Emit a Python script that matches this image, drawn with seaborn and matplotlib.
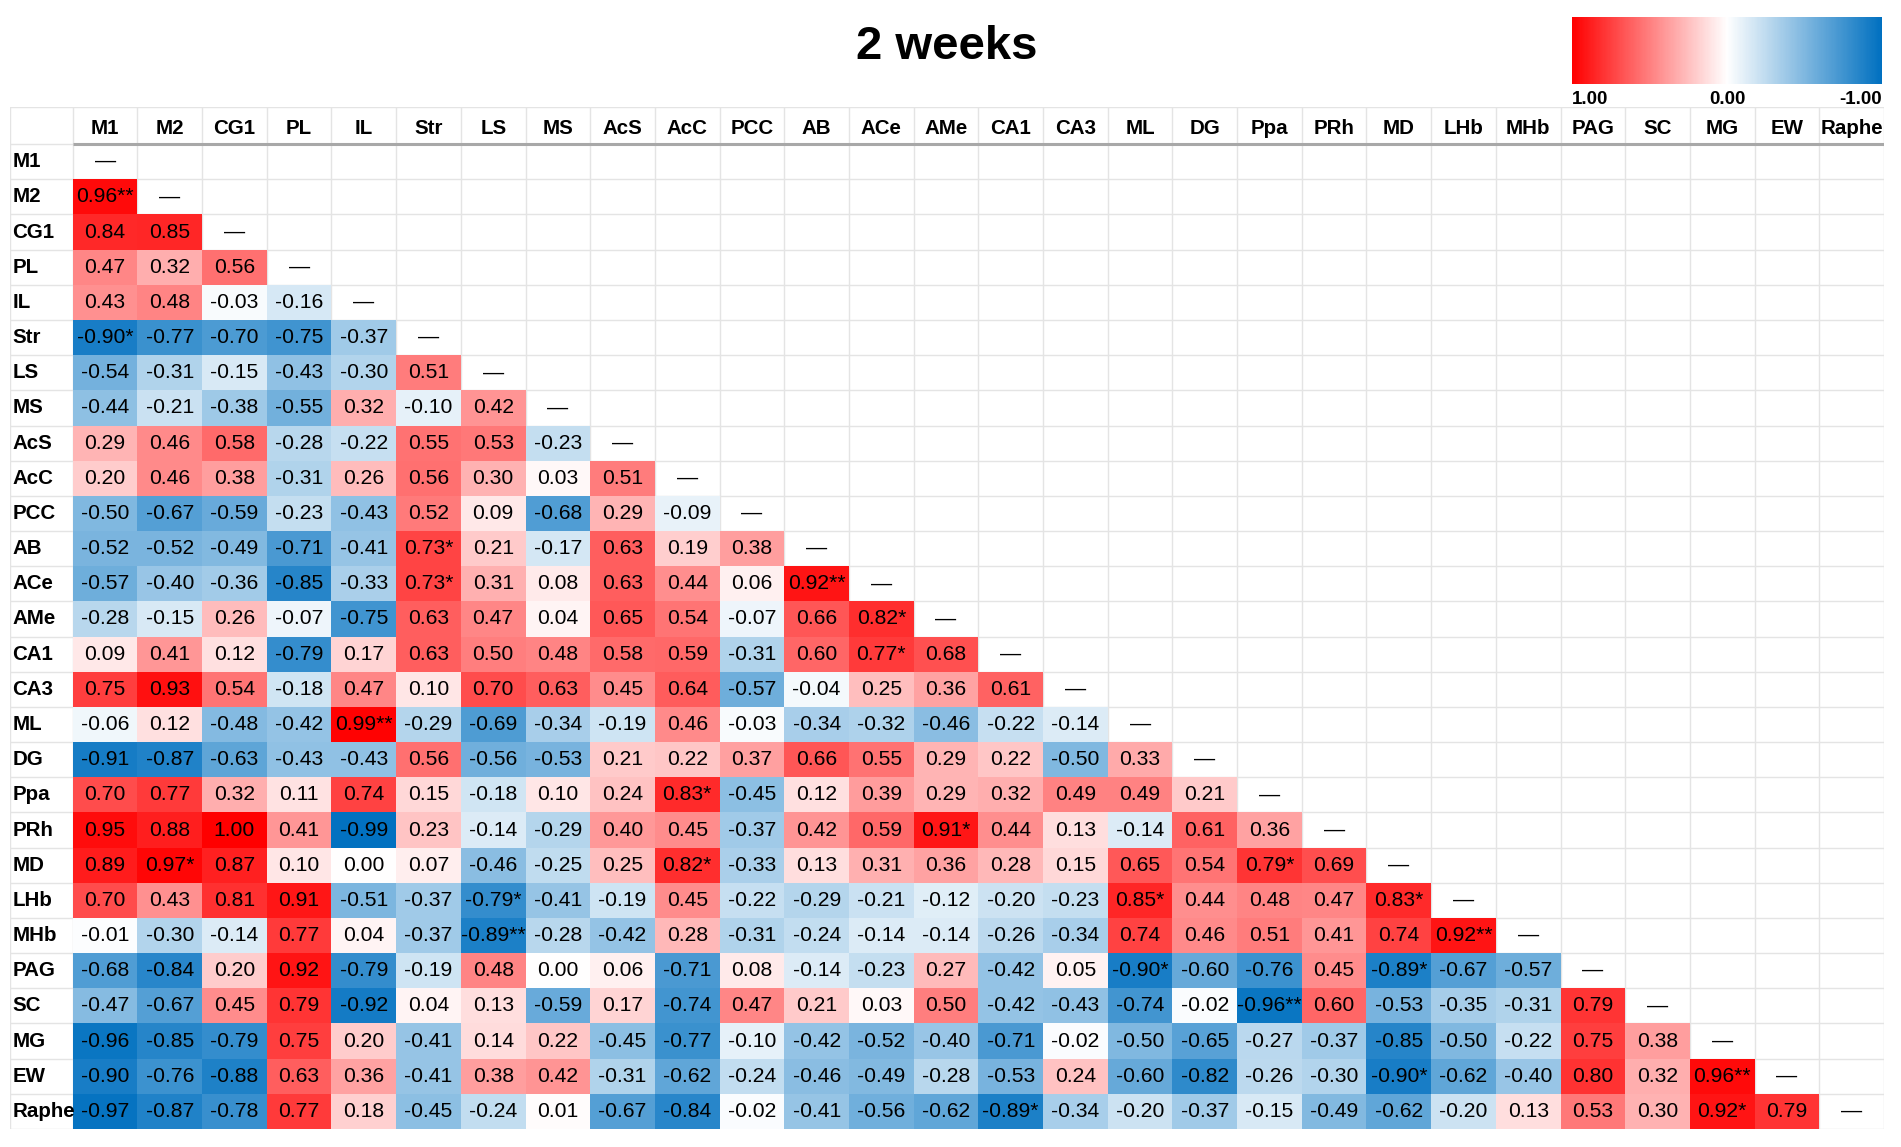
import numpy as np
import pandas as pd
import matplotlib
matplotlib.use("Agg")
import matplotlib.pyplot as plt
import seaborn as sns
from matplotlib.colors import LinearSegmentedColormap

# ---------------- data ----------------
regions = ["M1", "M2", "CG1", "PL", "IL", "Str", "LS", "MS", "AcS", "AcC", "PCC",
           "AB", "ACe", "AMe", "CA1", "CA3", "ML", "DG", "Ppa", "PRh", "MD", "LHb",
           "MHb", "PAG", "SC", "MG", "EW", "Raphe"]

row_M1 = []
row_M2 = [0.96]
row_CG1 = [0.84, 0.85]
row_PL = [0.47, 0.32, 0.56]
row_IL = [0.43, 0.48, -0.03, -0.16]
row_Str = [-0.90, -0.77, -0.70, -0.75, -0.37]
row_LS = [-0.54, -0.31, -0.15, -0.43, -0.30, 0.51]
row_MS = [-0.44, -0.21, -0.38, -0.55, 0.32, -0.10, 0.42]
row_AcS = [0.29, 0.46, 0.58, -0.28, -0.22, 0.55, 0.53, -0.23]
row_AcC = [0.20, 0.46, 0.38, -0.31, 0.26, 0.56, 0.30, 0.03, 0.51]
row_PCC = [-0.50, -0.67, -0.59, -0.23, -0.43, 0.52, 0.09, -0.68, 0.29, -0.09]
row_AB = [-0.52, -0.52, -0.49, -0.71, -0.41, 0.73, 0.21, -0.17, 0.63, 0.19, 0.38]
row_ACe = [-0.57, -0.40, -0.36, -0.85, -0.33, 0.73, 0.31, 0.08, 0.63, 0.44, 0.06, 0.92]
row_AMe = [-0.28, -0.15, 0.26, -0.07, -0.75, 0.63, 0.47, 0.04, 0.65, 0.54, -0.07, 0.66,
           0.82]
row_CA1 = [0.09, 0.41, 0.12, -0.79, 0.17, 0.63, 0.50, 0.48, 0.58, 0.59, -0.31, 0.60,
           0.77, 0.68]
row_CA3 = [0.75, 0.93, 0.54, -0.18, 0.47, 0.10, 0.70, 0.63, 0.45, 0.64, -0.57, -0.04,
           0.25, 0.36, 0.61]
row_ML = [-0.06, 0.12, -0.48, -0.42, 0.99, -0.29, -0.69, -0.34, -0.19, 0.46, -0.03,
          -0.34, -0.32, -0.46, -0.22, -0.14]
row_DG = [-0.91, -0.87, -0.63, -0.43, -0.43, 0.56, -0.56, -0.53, 0.21, 0.22, 0.37, 0.66,
          0.55, 0.29, 0.22, -0.50, 0.33]
row_Ppa = [0.70, 0.77, 0.32, 0.11, 0.74, 0.15, -0.18, 0.10, 0.24, 0.83, -0.45, 0.12,
           0.39, 0.29, 0.32, 0.49, 0.49, 0.21]
row_PRh = [0.95, 0.88, 1.00, 0.41, -0.99, 0.23, -0.14, -0.29, 0.40, 0.45, -0.37, 0.42,
           0.59, 0.91, 0.44, 0.13, -0.14, 0.61, 0.36]
row_MD = [0.89, 0.97, 0.87, 0.10, 0.00, 0.07, -0.46, -0.25, 0.25, 0.82, -0.33, 0.13,
          0.31, 0.36, 0.28, 0.15, 0.65, 0.54, 0.79, 0.69]
row_LHb = [0.70, 0.43, 0.81, 0.91, -0.51, -0.37, -0.79, -0.41, -0.19, 0.45, -0.22,
           -0.29, -0.21, -0.12, -0.20, -0.23, 0.85, 0.44, 0.48, 0.47, 0.83]
row_MHb = [-0.01, -0.30, -0.14, 0.77, 0.04, -0.37, -0.89, -0.28, -0.42, 0.28, -0.31,
           -0.24, -0.14, -0.14, -0.26, -0.34, 0.74, 0.46, 0.51, 0.41, 0.74, 0.92]
row_PAG = [-0.68, -0.84, 0.20, 0.92, -0.79, -0.19, 0.48, 0.00, 0.06, -0.71, 0.08, -0.14,
           -0.23, 0.27, -0.42, 0.05, -0.90, -0.60, -0.76, 0.45, -0.89, -0.67, -0.57]
row_SC = [-0.47, -0.67, 0.45, 0.79, -0.92, 0.04, 0.13, -0.59, 0.17, -0.74, 0.47, 0.21,
          0.03, 0.50, -0.42, -0.43, -0.74, -0.02, -0.96, 0.60, -0.53, -0.35, -0.31, 0.79]
row_MG = [-0.96, -0.85, -0.79, 0.75, 0.20, -0.41, 0.14, 0.22, -0.45, -0.77, -0.10, -0.42,
          -0.52, -0.40, -0.71, -0.02, -0.50, -0.65, -0.27, -0.37, -0.85, -0.50, -0.22,
          0.75, 0.38]
row_EW = [-0.90, -0.76, -0.88, 0.63, 0.36, -0.41, 0.38, 0.42, -0.31, -0.62, -0.24, -0.46,
          -0.49, -0.28, -0.53, 0.24, -0.60, -0.82, -0.26, -0.30, -0.90, -0.62, -0.40,
          0.80, 0.32, 0.96]
row_Raphe = [-0.97, -0.87, -0.78, 0.77, 0.18, -0.45, -0.24, 0.01, -0.67, -0.84, -0.02,
             -0.41, -0.56, -0.62, -0.89, -0.34, -0.20, -0.37, -0.15, -0.49, -0.62, -0.20,
             0.13, 0.53, 0.30, 0.92, 0.79]

rows = [row_M1, row_M2, row_CG1, row_PL, row_IL, row_Str, row_LS, row_MS, row_AcS,
        row_AcC, row_PCC, row_AB, row_ACe, row_AMe, row_CA1, row_CA3, row_ML, row_DG,
        row_Ppa, row_PRh, row_MD, row_LHb, row_MHb, row_PAG, row_SC, row_MG, row_EW,
        row_Raphe]

# significance markers (row, column)
sig_one = [("Str", "M1"), ("AB", "Str"), ("ACe", "Str"), ("AMe", "ACe"), ("CA1", "ACe"),
           ("Ppa", "AcC"), ("PRh", "AMe"), ("MD", "M2"), ("MD", "AcC"), ("MD", "Ppa"),
           ("LHb", "LS"), ("LHb", "ML"), ("LHb", "MD"), ("PAG", "ML"), ("PAG", "MD"),
           ("EW", "MD"), ("Raphe", "CA1"), ("Raphe", "MG")]
sig_two = [("M2", "M1"), ("ACe", "AB"), ("ML", "IL"), ("MHb", "LS"), ("MHb", "LHb"),
           ("SC", "Ppa"), ("EW", "MG")]

title_text = "2 weeks"
cbar_ticks = [1.0, 0.0, -1.0]
cbar_labels = ["1.00", "0.00", "-1.00"]

# ---------------- build ----------------
sns.set_theme(style="white")
plt.rcParams["font.family"] = ["Liberation Sans", "DejaVu Sans"]
plt.rcParams["text.color"] = "black"
plt.rcParams["xtick.color"] = "black"
plt.rcParams["xtick.labelcolor"] = "black"

n = len(regions)
mat = np.full((n, n), np.nan)
annot = np.full((n, n), "", dtype=object)
for i, row in enumerate(rows):
    for j, v in enumerate(row):
        mat[i, j] = v
        annot[i, j] = f"{v:.2f}"
for r, c in sig_one:
    annot[regions.index(r), regions.index(c)] += "*"
for r, c in sig_two:
    annot[regions.index(r), regions.index(c)] += "**"

df = pd.DataFrame(mat, index=regions, columns=regions)

W, H = 1901, 1147
fig = plt.figure(figsize=(W / 100, H / 100), dpi=100)
fig.patch.set_facecolor("white")

tbl_left, tbl_right, tbl_top, tbl_bottom = 10, 1884, 107.2, 1129
ax = fig.add_axes([tbl_left / W, 1 - tbl_bottom / H, (tbl_right - tbl_left) / W,
                   (tbl_bottom - tbl_top) / H])
cax = fig.add_axes([1572 / W, 1 - 84 / H, 310 / W, 67 / H])

cmap = LinearSegmentedColormap.from_list("rwb", ["#0070C0", "#FFFFFF", "#FF0000"])

num_fs = 15.2
lab_fs = 14.8

sns.heatmap(df, ax=ax, cmap=cmap, vmin=-1, vmax=1, annot=annot, fmt="",
            annot_kws=dict(fontsize=num_fs, color="black"),
            cbar_ax=cax, cbar_kws=dict(orientation="horizontal"),
            linewidths=0)

label_w = 0.97
header_h = 1.05
ax.set_xlim(-label_w, n)
ax.set_ylim(n, -header_h)
ax.set_xticks([])
ax.set_yticks([])
for s in ax.spines.values():
    s.set_visible(False)
ax.set_facecolor("white")

grid_col = "#E4E4E4"
for x in [-label_w] + list(range(n + 1)):
    ax.plot([x, x], [-header_h, n], color=grid_col, lw=1.0, zorder=0.5)
for y in [-header_h] + list(range(n + 1)):
    ax.plot([-label_w, n], [y, y], color=grid_col, lw=1.0, zorder=0.5)
ax.plot([0, n], [0, 0], color="#A8A8A8", lw=2.2, zorder=3, solid_capstyle="butt")

for j, name in enumerate(regions):
    ax.text(j + 0.5, -header_h / 2 + 0.08, name, ha="center", va="center",
            fontsize=lab_fs, fontweight="bold", color="black")
for i, name in enumerate(regions):
    ax.text(-label_w + 0.04, i + 0.5, name, ha="left", va="center",
            fontsize=lab_fs, fontweight="bold", color="black")
    ax.text(i + 0.5, i + 0.5, "\u2014", ha="center", va="center",
            fontsize=num_fs, color="black")

# colorbar
cbar = ax.collections[0].colorbar
cbar.outline.set_visible(False)
cax.invert_xaxis()
cax.set_xticks(cbar_ticks)
cax.set_xticklabels(cbar_labels, fontsize=13.5, fontweight="bold", color="black")
cax.tick_params(axis="x", length=0, pad=5)
labs = cax.get_xticklabels()
labs[0].set_ha("left")
labs[1].set_ha("center")
labs[2].set_ha("right")

fig.text(947 / W, 1 - 47 / H, title_text, ha="center", va="center",
         fontsize=34, fontweight="bold", color="black")

fig.savefig("out.png", dpi=100)
